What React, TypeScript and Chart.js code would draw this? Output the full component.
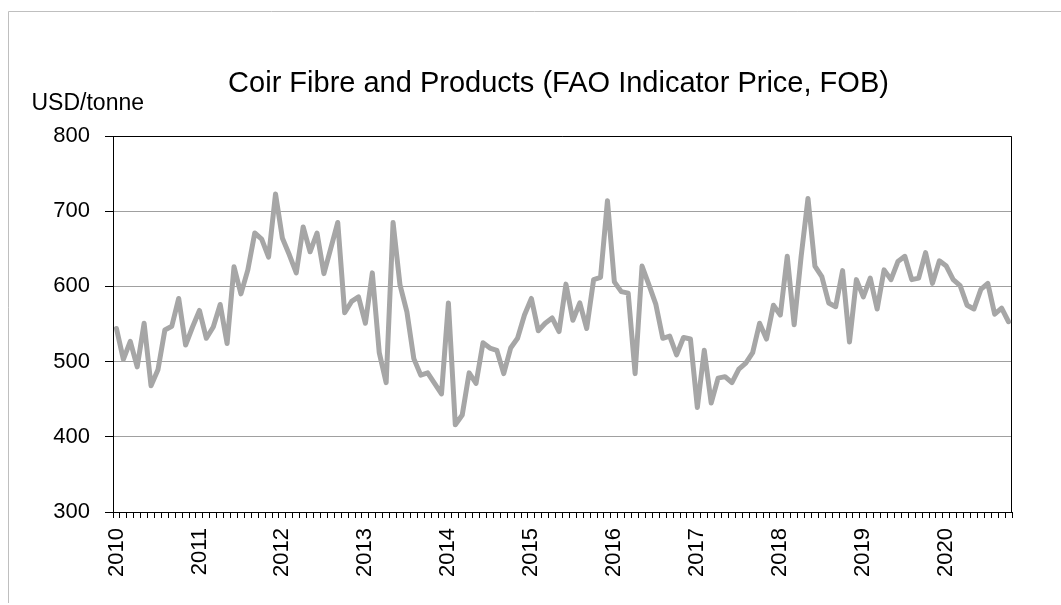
import React, { useEffect, useRef } from 'react';
import { Chart, registerables } from 'chart.js';

Chart.register(...registerables);

const TITLE = 'Coir Fibre and Products (FAO Indicator Price, FOB)';
const UNIT = 'USD/tonne';
const YEARS = ['2010', '2011', '2012', '2013', '2014', '2015', '2016', '2017', '2018', '2019', '2020'];
const Y_MIN = 300;
const Y_MAX = 800;
const Y_STEP = 100;

const p2010 = [544, 503, 527, 493, 551, 468, 489, 542, 547, 584, 522, 546];
const p2011 = [568, 531, 546, 576, 524, 626, 590, 622, 671, 663, 639, 723];
const p2012 = [664, 642, 618, 679, 646, 671, 617, 651, 685, 565, 580, 586];
const p2013 = [551, 618, 512, 472, 685, 602, 566, 504, 482, 485, 471, 457];
const p2014 = [578, 416, 429, 485, 471, 525, 518, 515, 484, 518, 531, 562];
const p2015 = [584, 541, 551, 558, 540, 603, 555, 578, 544, 609, 612, 714];
const p2016 = [606, 593, 591, 484, 627, 602, 576, 531, 534, 509, 532, 530];
const p2017 = [439, 515, 445, 478, 480, 472, 490, 498, 512, 551, 530, 575];
const p2018 = [562, 640, 549, 639, 717, 627, 613, 578, 573, 621, 526, 609];
const p2019 = [586, 611, 570, 622, 609, 633, 640, 609, 611, 645, 604, 634];
const p2020 = [627, 609, 601, 575, 570, 596, 604, 563, 571, 553];

const yearly = [p2010, p2011, p2012, p2013, p2014, p2015, p2016, p2017, p2018, p2019, p2020];

const labels: string[] = [];
const values: number[] = [];
yearly.forEach((arr, yi) => {
  arr.forEach((v, mi) => {
    labels.push(`${YEARS[yi]}-${String(mi + 1).padStart(2, '0')}`);
    values.push(v);
  });
});

const FONT = '"Liberation Sans", Arial, sans-serif';

const decor = {
  id: 'decor',
  beforeDraw(chart: any) {
    const { ctx, width, height } = chart;
    ctx.save();
    ctx.fillStyle = '#ffffff';
    ctx.fillRect(0, 0, width, height);
    ctx.strokeStyle = '#bfbfbf';
    ctx.lineWidth = 1;
    ctx.beginPath();
    ctx.moveTo(8.5, height - 2);
    ctx.lineTo(8.5, 11.5);
    ctx.lineTo(width, 11.5);
    ctx.stroke();
    ctx.restore();
  },
  beforeDatasetsDraw(chart: any) {
    const { ctx, chartArea } = chart;
    ctx.save();
    ctx.strokeStyle = '#000000';
    ctx.lineWidth = 1;
    ctx.beginPath();
    ctx.moveTo(chartArea.left, Math.round(chartArea.top) + 0.5);
    ctx.lineTo(Math.round(chartArea.right) - 0.5, Math.round(chartArea.top) + 0.5);
    ctx.lineTo(Math.round(chartArea.right) - 0.5, chartArea.bottom);
    ctx.stroke();
    ctx.restore();
  },
  afterDraw(chart: any) {
    const { ctx } = chart;
    ctx.save();
    ctx.fillStyle = '#000000';
    ctx.textBaseline = 'alphabetic';
    ctx.font = `29px ${FONT}`;
    ctx.textAlign = 'center';
    ctx.fillText(TITLE, 558.5, 92);
    ctx.font = `23px ${FONT}`;
    ctx.textAlign = 'left';
    ctx.fillText(UNIT, 31.5, 110);
    ctx.restore();
  },
};

export default function App() {
  const ref = useRef<HTMLCanvasElement | null>(null);

  useEffect(() => {
    if (!ref.current) return;
    const chart = new Chart(ref.current, {
      type: 'line',
      data: {
        labels,
        datasets: [
          {
            label: 'Coir',
            data: values,
            borderColor: '#a6a6a6',
            backgroundColor: '#a6a6a6',
            borderWidth: 5,
            pointRadius: 0,
            tension: 0,
            borderJoinStyle: 'round',
            borderCapStyle: 'round',
          },
        ],
      },
      options: {
        responsive: false,
        animation: false,
        layout: { padding: { top: 136, right: 49, bottom: 0, left: 0 } },
        plugins: {
          legend: { display: false },
          title: { display: false },
          tooltip: { enabled: false },
        },
        scales: {
          x: {
            type: 'category',
            offset: true,
            afterFit: (s: any) => {
              s.height = 93;
            },
            grid: {
              offset: true,
              drawOnChartArea: false,
              drawTicks: true,
              tickLength: 6,
              tickColor: '#000000',
            },
            border: { color: '#000000', width: 1 },
            ticks: {
              autoSkip: false,
              maxRotation: 90,
              minRotation: 90,
              padding: 10,
              color: '#000000',
              font: { family: FONT, size: 22 },
              callback: (_v: any, i: number) => (i % 12 === 0 ? YEARS[i / 12] : ''),
            },
          },
          y: {
            min: Y_MIN,
            max: Y_MAX,
            afterFit: (s: any) => {
              s.width = 113;
            },
            grid: {
              color: '#a0a0a0',
              lineWidth: 1,
              drawTicks: true,
              tickLength: 8,
              tickColor: '#000000',
            },
            border: { color: '#000000', width: 1 },
            ticks: {
              stepSize: Y_STEP,
              padding: 15,
              color: '#000000',
              font: { family: FONT, size: 22 },
            },
          },
        },
      },
      plugins: [decor],
    } as any);
    return () => chart.destroy();
  }, []);

  return (
    <div style={{ position: 'fixed', left: 0, top: 0, width: 1061, height: 605, background: '#fff' }}>
      <canvas ref={ref} width={1061} height={605} style={{ display: 'block', width: 1061, height: 605 }} />
    </div>
  );
}
